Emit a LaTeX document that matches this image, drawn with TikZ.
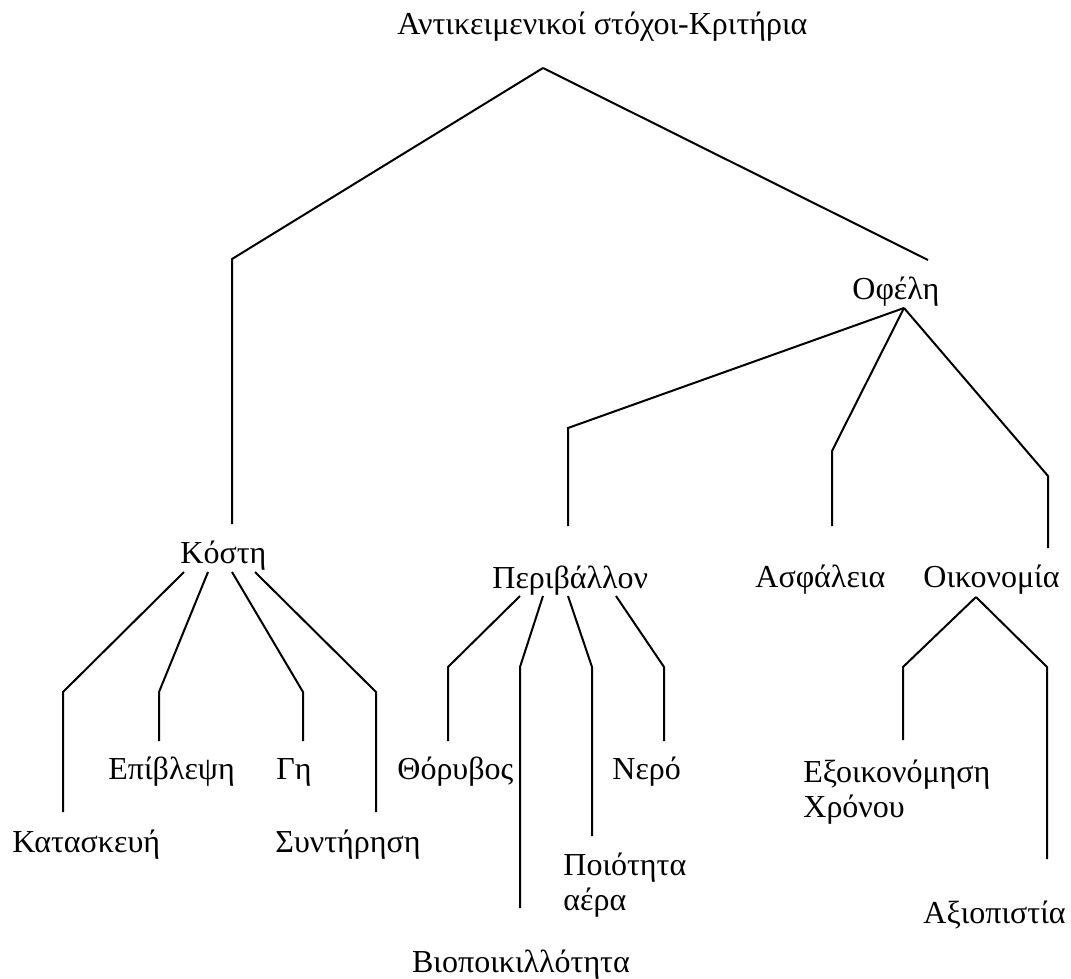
\documentclass[tikz,border=0pt]{standalone}
\usepackage{fontspec}
\setmainfont{Liberation Serif}
\begin{document}
\begin{tikzpicture}[x=0.5pt,y=-0.5pt,
  lbl/.style={inner sep=0pt, anchor=base west, font=\fontsize{16}{17.5}\selectfont},
  clbl/.style={lbl, anchor=base},
  link/.style={line width=1pt, line join=miter}]
\useasboundingbox (0,0) rectangle (1071,979);

% ---- labels ----
\node[lbl] (root) at (397,35) {Αντικειμενικοί στόχοι-Κριτήρια};
\node[lbl] (kosti) at (180,563) {Κόστη};
\node[lbl] (ofeli) at (852,299) {Οφέλη};
\node[lbl] (kat) at (12,852) {Κατασκευή};
\node[lbl] (epi) at (108,779) {Επίβλεψη};
\node[lbl] (gi) at (276,779) {Γη};
\node[lbl] (syn) at (275,852) {Συντήρηση};
\node[lbl] (peri) at (492,588) {Περιβάλλον};
\node[lbl] (asf) at (755,587) {Ασφάλεια};
\node[lbl] (oik) at (923,587) {Οικονομία};
\node[lbl] (tho) at (397,779) {Θόρυβος};
\node[clbl] (bio) at (521,972) {Βιοποικιλλότητα};
\node[lbl] (poi) at (563,875) {\begin{tabular}[t]{@{}l@{}}Ποιότητα\\αέρα\end{tabular}};
\node[lbl] (ner) at (612,779) {Νερό};
\node[lbl] (exo) at (803,782) {\begin{tabular}[t]{@{}l@{}}Εξοικονόμηση\\Χρόνου\end{tabular}};
\node[lbl] (axi) at (923,923) {Αξιοπιστία};

% ---- connector end points ----
\coordinate (rootHub) at (543,68);
\coordinate (kostiIn) at (232,524);
\coordinate (ofeliIn) at (928,260);
\coordinate (ofeliHub) at (904,308);
\coordinate (periIn) at (568,526);
\coordinate (asfIn) at (832,526);
\coordinate (oikIn) at (1048,548);

\coordinate (kOutA) at (184,572);
\coordinate (kOutB) at (208,572);
\coordinate (kOutC) at (232,572);
\coordinate (kOutD) at (255,572);
\coordinate (katIn) at (63,812);
\coordinate (epiIn) at (159,741);
\coordinate (giIn) at (303,741);
\coordinate (synIn) at (376,812);

\coordinate (pOutA) at (520,596);
\coordinate (pOutB) at (543,596);
\coordinate (pOutC) at (568,596);
\coordinate (pOutD) at (616,596);
\coordinate (thoIn) at (448,741);
\coordinate (bioIn) at (520,908);
\coordinate (poiIn) at (592,836);
\coordinate (nerIn) at (664,741);

\coordinate (oikHub) at (976,597);
\coordinate (exoIn) at (903,740);
\coordinate (axiIn) at (1047,859);

% ---- top level ----
\draw[link] (rootHub) -- (232,259) -- (kostiIn);
\draw[link] (rootHub) -- (ofeliIn);

% ---- benefits ----
\draw[link] (ofeliHub) -- (568,428) -- (periIn);
\draw[link] (ofeliHub) -- (832,451) -- (asfIn);
\draw[link] (ofeliHub) -- (1048,476) -- (oikIn);

% ---- costs ----
\draw[link] (kOutA) -- (63,692) -- (katIn);
\draw[link] (kOutB) -- (159,692) -- (epiIn);
\draw[link] (kOutC) -- (303,692) -- (giIn);
\draw[link] (kOutD) -- (376,692) -- (synIn);

% ---- environment ----
\draw[link] (pOutA) -- (448,667) -- (thoIn);
\draw[link] (pOutB) -- (520,667) -- (bioIn);
\draw[link] (pOutC) -- (592,667) -- (poiIn);
\draw[link] (pOutD) -- (664,667) -- (nerIn);

% ---- economy ----
\draw[link] (oikHub) -- (903,667) -- (exoIn);
\draw[link] (oikHub) -- (1047,667) -- (axiIn);
\end{tikzpicture}
\end{document}
